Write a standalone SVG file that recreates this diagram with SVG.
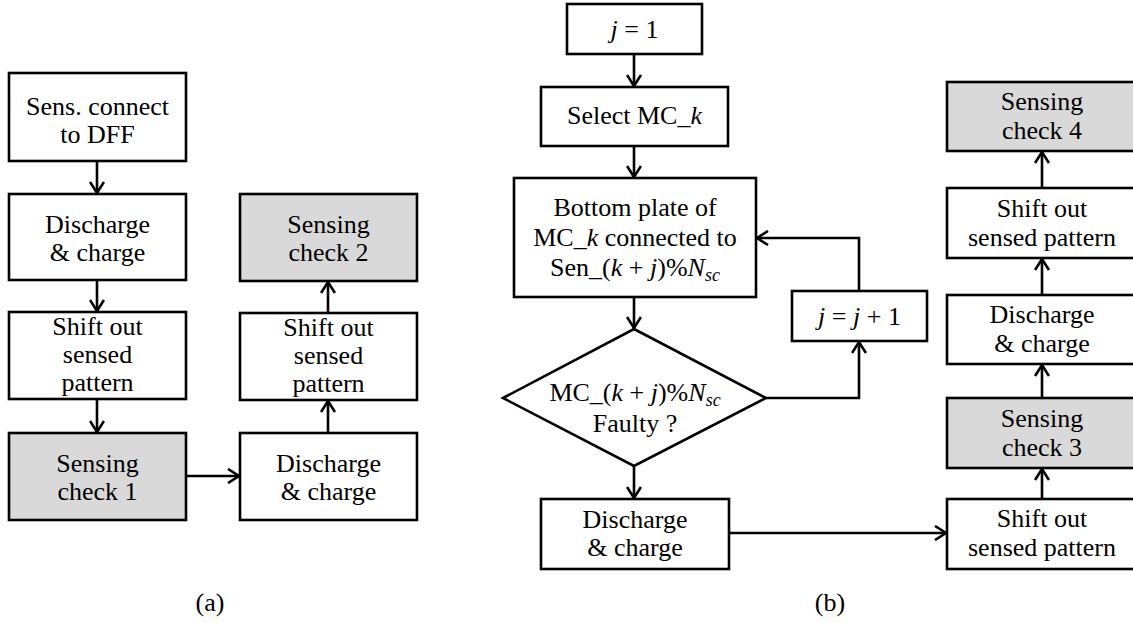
<svg xmlns="http://www.w3.org/2000/svg" width="1133" height="623" viewBox="0 0 1133 623">
<defs>
<style>
.box{fill:#ffffff;stroke:#000;stroke-width:2.6}
.gray{fill:#d9d9d9;stroke:#000;stroke-width:2.6}
.t{font-family:'Liberation Serif',serif;font-size:26px;fill:#000;text-anchor:middle}
.i{font-style:italic}
.s{font-style:italic;font-size:18px}
.c{fill:none;stroke:#000;stroke-width:2.6}
</style>
<marker id="ah" markerUnits="userSpaceOnUse" markerWidth="14" markerHeight="16" viewBox="0 0 14 16" refX="12" refY="8" orient="auto">
<path d="M1,1 L12,8 L1,15" fill="none" stroke="#000" stroke-width="2.6"/>
</marker>
</defs>
<rect width="1133" height="623" fill="#fff"/>

<g id="connectors">
<path class="c" d="M97,161 V193" marker-end="url(#ah)"/>
<path class="c" d="M97,280 V311" marker-end="url(#ah)"/>
<path class="c" d="M97,399 V432" marker-end="url(#ah)"/>
<path class="c" d="M186,476 H239" marker-end="url(#ah)"/>
<path class="c" d="M328,433 V401" marker-end="url(#ah)"/>
<path class="c" d="M328,313 V282" marker-end="url(#ah)"/>
<path class="c" d="M634,54 V86" marker-end="url(#ah)"/>
<path class="c" d="M634,146 V177" marker-end="url(#ah)"/>
<path class="c" d="M634,297 V328" marker-end="url(#ah)"/>
<path class="c" d="M634,466 V498" marker-end="url(#ah)"/>
<path class="c" d="M766,398 H859 V342" marker-end="url(#ah)"/>
<path class="c" d="M859,291 V238 H757" marker-end="url(#ah)"/>
<path class="c" d="M729,533 H946" marker-end="url(#ah)"/>
<path class="c" d="M1042,499 V469" marker-end="url(#ah)"/>
<path class="c" d="M1042,398 V365" marker-end="url(#ah)"/>
<path class="c" d="M1042,295 V259" marker-end="url(#ah)"/>
<path class="c" d="M1042,188 V152" marker-end="url(#ah)"/>
</g>

<g id="a1"><rect class="box" x="9" y="73" width="177" height="88"/>
<text class="t" x="97.5" y="115">Sens. connect</text><text class="t" x="97.5" y="143">to DFF</text></g>
<g id="a2"><rect class="box" x="9" y="194" width="177" height="86"/>
<text class="t" x="97.5" y="233">Discharge</text><text class="t" x="97.5" y="261">&amp; charge</text></g>
<g id="a3"><rect class="box" x="9" y="312" width="177" height="87"/>
<text class="t" x="97.5" y="335">Shift out</text><text class="t" x="97.5" y="363">sensed</text><text class="t" x="97.5" y="391">pattern</text></g>
<g id="a4"><rect class="gray" x="9" y="433" width="177" height="87"/>
<text class="t" x="97.5" y="472">Sensing</text><text class="t" x="97.5" y="500">check 1</text></g>
<g id="a5"><rect class="box" x="240" y="433" width="177" height="87"/>
<text class="t" x="328.5" y="472">Discharge</text><text class="t" x="328.5" y="500">&amp; charge</text></g>
<g id="a6"><rect class="box" x="240" y="313" width="177" height="87"/>
<text class="t" x="328.5" y="336">Shift out</text><text class="t" x="328.5" y="364">sensed</text><text class="t" x="328.5" y="392">pattern</text></g>
<g id="a7"><rect class="gray" x="240" y="194" width="177" height="87"/>
<text class="t" x="328.5" y="233">Sensing</text><text class="t" x="328.5" y="261">check 2</text></g>

<g id="b1"><rect class="box" x="567" y="4" width="135" height="50"/>
<text class="t" x="634.5" y="38"><tspan class="i">j</tspan> = 1</text></g>
<g id="b2"><rect class="box" x="541" y="87" width="187" height="59"/>
<text class="t" x="634.5" y="124">Select MC_<tspan class="i">k</tspan></text></g>
<g id="b3"><rect class="box" x="514" y="178" width="242" height="119"/>
<text class="t" x="635" y="216">Bottom plate of</text>
<text class="t" x="635" y="246">MC_<tspan class="i">k</tspan> connected to</text>
<text class="t" x="635" y="276">Sen_(<tspan class="i">k</tspan> + <tspan class="i">j</tspan>)%<tspan class="i">N</tspan><tspan class="s" dy="5">sc</tspan></text></g>
<g id="b4"><polygon class="box" points="634,329 766,398 634,466 503,398"/>
<text class="t" x="635" y="401">MC_(<tspan class="i">k</tspan> + <tspan class="i">j</tspan>)%<tspan class="i">N</tspan><tspan class="s" dy="5">sc</tspan></text>
<text class="t" x="635" y="432">Faulty ?</text></g>
<g id="b5"><rect class="box" x="541" y="499" width="188" height="70"/>
<text class="t" x="635" y="528">Discharge</text><text class="t" x="635" y="556">&amp; charge</text></g>
<g id="b6"><rect class="box" x="792" y="291" width="135" height="50"/>
<text class="t" x="859.5" y="325"><tspan class="i">j</tspan> = <tspan class="i">j</tspan> + 1</text></g>
<g id="b7"><rect class="box" x="947" y="499" width="190" height="70"/>
<text class="t" x="1042" y="527">Shift out</text><text class="t" x="1042" y="556">sensed pattern</text></g>
<g id="b8"><rect class="gray" x="947" y="398" width="190" height="70"/>
<text class="t" x="1042" y="427">Sensing</text><text class="t" x="1042" y="456">check 3</text></g>
<g id="b9"><rect class="box" x="947" y="295" width="190" height="69"/>
<text class="t" x="1042" y="323">Discharge</text><text class="t" x="1042" y="352">&amp; charge</text></g>
<g id="b10"><rect class="box" x="947" y="188" width="190" height="70"/>
<text class="t" x="1042" y="217">Shift out</text><text class="t" x="1042" y="246">sensed pattern</text></g>
<g id="b11"><rect class="gray" x="947" y="82" width="190" height="69"/>
<text class="t" x="1042" y="110">Sensing</text><text class="t" x="1042" y="139">check 4</text></g>

<text class="t" x="210" y="611">(a)</text>
<text class="t" x="830" y="611">(b)</text>
</svg>
